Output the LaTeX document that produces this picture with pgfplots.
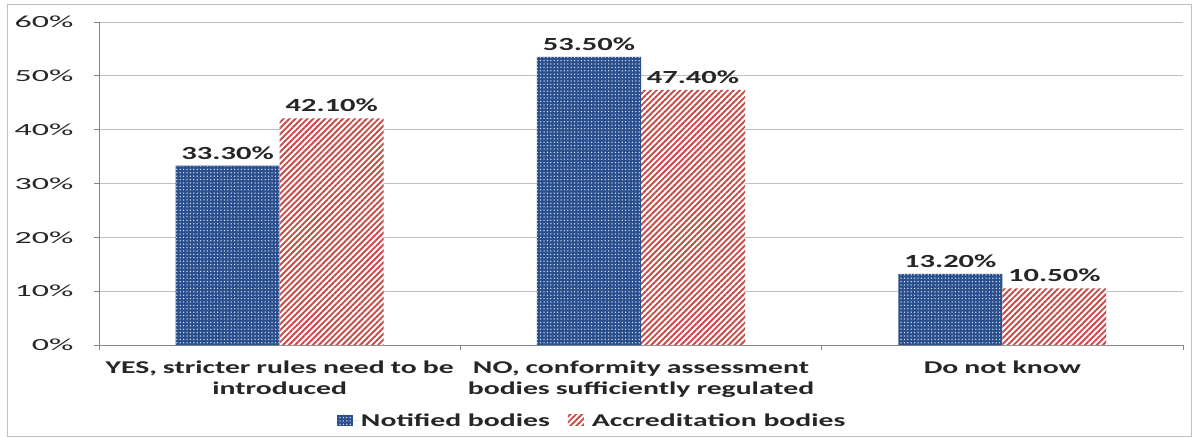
\documentclass[border=0pt]{standalone}
\usepackage{pgfplots}
\pgfplotsset{compat=1.18}
\usetikzlibrary{patterns.meta}
\usepackage{fontspec}
\setmainfont{Carlito}[FakeStretch=1.65]
\newfontfamily\tickfont{Carlito}[FakeStretch=2.0]
\definecolor{nblue}{HTML}{2A4F8E}
\definecolor{ared}{HTML}{C84A47}
\definecolor{gridc}{HTML}{BFBFBF}
\definecolor{axc}{HTML}{868686}
\definecolor{txt}{HTML}{262626}
\begin{document}
\begin{tikzpicture}
\path (-99bp,-93bp) rectangle (1100bp,345bp);
\draw[gridc, line width=1bp] (-91bp,-91bp) rectangle (1092bp,340bp);
\begin{axis}[
  at={(0,0)}, anchor=south west,
  scale only axis, width=1084bp, height=323bp,
  ymin=0, ymax=60, ytick={0,10,...,60},
  xmin=-0.5, xmax=2.5, xtick={0,1,2},
  xticklabels={{YES, stricter rules need to be\\introduced},{NO, conformity assessment\\bodies sufficiently regulated},{Do not know}},
  ybar=0pt, bar width=0.288,
  ymajorgrids, grid style={gridc, line width=0.8bp},
  axis lines*=left,
  axis line style={axc, line width=0.8bp},
  tick align=outside,
  major tick length=5bp, minor tick length=5bp,
  major x tick style={draw=none},
  minor xtick={-0.5,0.5,1.5,2.5},
  minor x tick style={axc, line width=0.8bp},
  ytick style={axc, line width=0.8bp},
  /pgf/number format/assume math mode=true,
  yticklabel={\pgfmathprintnumber{\tick}\%},
  yticklabel style={font=\tickfont\fontsize{17bp}{20bp}\selectfont, text=txt, xshift=-17bp},
  xticklabel style={font=\bfseries\fontsize{18bp}{21bp}\selectfont, text=txt, text width=380bp, align=center, yshift=-7bp},
  nodes near coords={\pgfmathprintnumber[fixed,fixed zerofill,precision=2]{\pgfplotspointmeta}\%},
  nodes near coords style={font=\bfseries\fontsize{18.5bp}{21bp}\selectfont, text=txt, yshift=3bp},
  legend style={at={(0.455,-0.235)}, anchor=center, draw=none, legend columns=2,
    font=\bfseries\fontsize{18bp}{21bp}\selectfont, text=txt,
    /tikz/every even column/.append style={column sep=16bp}},
  legend image code/.code={\path[#1, draw=none] (0bp,-5bp) rectangle (16bp,6bp); \path (0bp,0bp) -- (22bp,0bp);},
]
\addplot[fill=nblue, draw=none, postaction={pattern={Dots[distance=3.4bp, radius=0.75bp]}, pattern color=white!80!nblue}]
  coordinates {(0,33.3) (1,53.5) (2,13.2)};
\addplot[fill=white, draw=none, postaction={pattern={Lines[angle=45, distance=4.2bp, line width=1.9bp]}, pattern color=ared}]
  coordinates {(0,42.1) (1,47.4) (2,10.5)};
\legend{Notified bodies, Accreditation bodies}
\end{axis}
\end{tikzpicture}
\end{document}
